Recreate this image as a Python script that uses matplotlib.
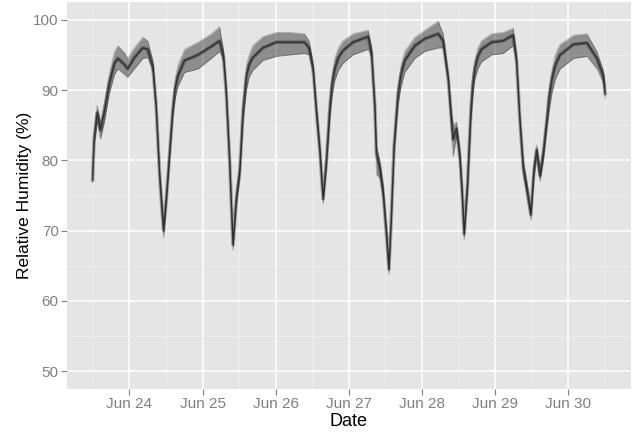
import datetime as dt
import matplotlib
matplotlib.use('Agg')
from matplotlib import pyplot as plt
import matplotlib.dates as mdates

# hours after Jun 23 00:00
hours = [11.9, 12.4, 13.4, 14.5, 15.8, 17.4, 19.1, 20.2, 22.4, 23.4,
         25.6, 28.4, 30.0, 31.7, 32.8, 33.9, 35.2, 36.1, 37.2, 38.2,
         39.0, 39.9, 42.1, 46.5, 50.9, 53.6, 54.9, 55.8, 56.9, 58.0,
         59.1, 60.2, 61.3, 62.4, 63.3, 64.5, 67.8, 72.2, 76.6, 81.5,
         83.0, 84.3, 85.4, 86.5, 87.6, 88.7, 89.8, 90.5, 91.4, 92.6,
         94.1, 97.4, 102.4, 103.5, 104.6, 105.1, 106.2, 107.3, 108.4, 109.2,
         110.0, 110.9, 112.2, 113.2, 114.4, 117.7, 121.0, 125.4, 127.0, 128.7,
         129.8, 130.3, 131.4, 132.5, 133.3, 133.9, 135.0, 136.1, 136.7, 137.4,
         138.4, 139.6, 142.9, 146.7, 150.0, 151.1, 152.2, 153.3, 154.4, 155.8,
         156.8, 157.7, 158.8, 159.9, 161.0, 161.8, 162.7, 163.8, 165.4, 169.8,
         174.2, 177.5, 179.6, 180.2]

# typical sensor reading
rh_mid = [77.2, 83.0, 86.8, 84.3, 87.0, 91.0, 93.8, 94.5, 93.6, 93.0,
          94.6, 96.0, 95.8, 93.3, 87.5, 78.0, 70.0, 74.5, 81.0, 87.0,
          90.2, 92.0, 94.2, 95.0, 96.2, 97.0, 94.7, 89.6, 80.0, 68.0,
          74.5, 78.3, 87.0, 92.0, 93.6, 94.6, 96.0, 96.8, 96.8, 96.8,
          96.0, 93.0, 87.0, 81.5, 74.5, 80.0, 87.5, 90.8, 93.0, 94.6,
          95.6, 96.8, 97.6, 95.3, 87.5, 81.0, 79.0, 75.5, 69.5, 64.5,
          72.0, 82.0, 89.5, 92.3, 94.2, 96.3, 97.3, 98.0, 97.0, 91.5,
          85.5, 83.0, 84.5, 80.5, 75.0, 69.5, 76.5, 87.0, 90.7, 93.0,
          94.8, 95.8, 96.8, 97.0, 97.8, 94.3, 85.8, 79.0, 76.2, 72.3,
          78.5, 81.5, 77.8, 81.0, 85.5, 89.0, 91.5, 93.5, 95.0, 96.5,
          96.7, 94.5, 92.0, 89.5]

# lowest sensor
rh_low = [76.8, 82.0, 85.5, 83.0, 85.5, 89.5, 92.2, 93.0, 92.2, 91.8,
          93.0, 94.5, 94.6, 92.5, 86.8, 77.2, 69.0, 73.5, 80.2, 86.0,
          88.8, 90.5, 92.5, 93.0, 94.5, 95.5, 94.0, 88.8, 79.0, 67.2,
          73.5, 77.5, 85.5, 90.0, 91.8, 92.8, 94.2, 94.8, 95.0, 95.2,
          95.0, 92.3, 86.2, 80.5, 73.8, 79.0, 86.0, 89.0, 91.3, 92.8,
          93.8, 95.0, 95.8, 94.5, 86.5, 78.0, 77.5, 74.5, 68.5, 63.8,
          71.0, 81.0, 88.0, 90.5, 92.5, 94.5, 95.5, 96.0, 96.0, 90.8,
          83.0, 80.5, 83.5, 79.5, 74.0, 68.7, 75.5, 85.5, 89.0, 91.5,
          93.0, 94.0, 95.0, 95.2, 96.3, 93.5, 85.0, 77.8, 75.2, 71.5,
          77.5, 80.5, 77.0, 80.0, 84.3, 87.0, 89.5, 91.5, 93.0, 94.5,
          94.8, 93.0, 91.0, 88.8]

# highest sensor
rh_high = [77.8, 84.0, 87.8, 85.5, 88.3, 92.3, 95.5, 96.3, 95.3, 94.5,
           96.0, 97.5, 97.0, 94.2, 88.2, 78.8, 71.3, 75.5, 82.0, 88.0,
           91.5, 93.5, 95.8, 96.8, 98.0, 99.0, 95.7, 90.4, 80.8, 69.0,
           75.5, 79.5, 88.0, 93.5, 95.0, 96.3, 97.6, 98.2, 98.2, 98.0,
           97.0, 93.8, 87.8, 82.5, 75.3, 81.0, 88.7, 92.0, 94.5, 96.0,
           97.0, 98.0, 98.5, 96.0, 88.5, 82.0, 80.0, 76.5, 70.5, 65.5,
           73.0, 83.0, 90.5, 93.6, 95.5, 97.5, 98.5, 99.8, 98.0, 92.3,
           86.5, 85.0, 85.5, 81.5, 76.0, 70.5, 77.5, 88.0, 92.0, 94.3,
           96.0, 97.0, 98.0, 98.2, 98.8, 95.0, 86.5, 80.0, 77.2, 73.2,
           79.5, 82.2, 79.0, 82.0, 86.5, 90.3, 92.8, 95.0, 96.5, 97.8,
           98.0, 95.5, 92.8, 90.5]

start = dt.datetime(2013, 6, 23)
dates = [start + dt.timedelta(hours=h) for h in hours]

fig = plt.figure(figsize=(6.32, 4.34), dpi=100)
ax = fig.add_axes([0.106, 0.104, 0.892, 0.891])
ax.set_facecolor('#E5E5E5')
for s in ax.spines.values():
    s.set_visible(False)

# sensor spread, then a darker core where most sensors overlap
ax.fill_between(dates, rh_low, rh_high, color='black', alpha=0.38, lw=0)
ax.plot(dates, rh_low, color='black', alpha=0.25, lw=0.6)
ax.plot(dates, rh_high, color='black', alpha=0.25, lw=0.6)
ax.plot(dates, rh_mid, color='black', alpha=0.3, lw=2.6)
ax.plot(dates, rh_mid, color='black', alpha=0.5, lw=1.0)

ax.set_xlim(start + dt.timedelta(hours=3.5), start + dt.timedelta(hours=188.6))
ax.set_ylim(47.5, 102.5)
ax.set_yticks([50, 60, 70, 80, 90, 100])
ax.set_yticks([55, 65, 75, 85, 95], minor=True)
ax.xaxis.set_major_locator(mdates.DayLocator())
ax.xaxis.set_minor_locator(mdates.HourLocator(byhour=12))
ax.xaxis.set_major_formatter(mdates.DateFormatter('%b %d'))

ax.grid(which='major', color='white', lw=1.1)
ax.grid(which='minor', color='#F2F2F2', lw=0.5)
ax.set_axisbelow(True)

ax.tick_params(which='major', length=4, width=0.8, color='#7F7F7F',
               labelcolor='#7F7F7F', labelsize=11, pad=2)
ax.tick_params(which='minor', length=0)
for lab in ax.get_xticklabels() + ax.get_yticklabels():
    lab.set_family('Liberation Sans')

ax.set_xlabel('Date', fontsize=13, family='Liberation Sans', labelpad=1)
ax.set_ylabel('Relative Humidity (%)', fontsize=12.5, family='Liberation Sans',
              labelpad=0.5)

fig.savefig('out.png', dpi=100)
